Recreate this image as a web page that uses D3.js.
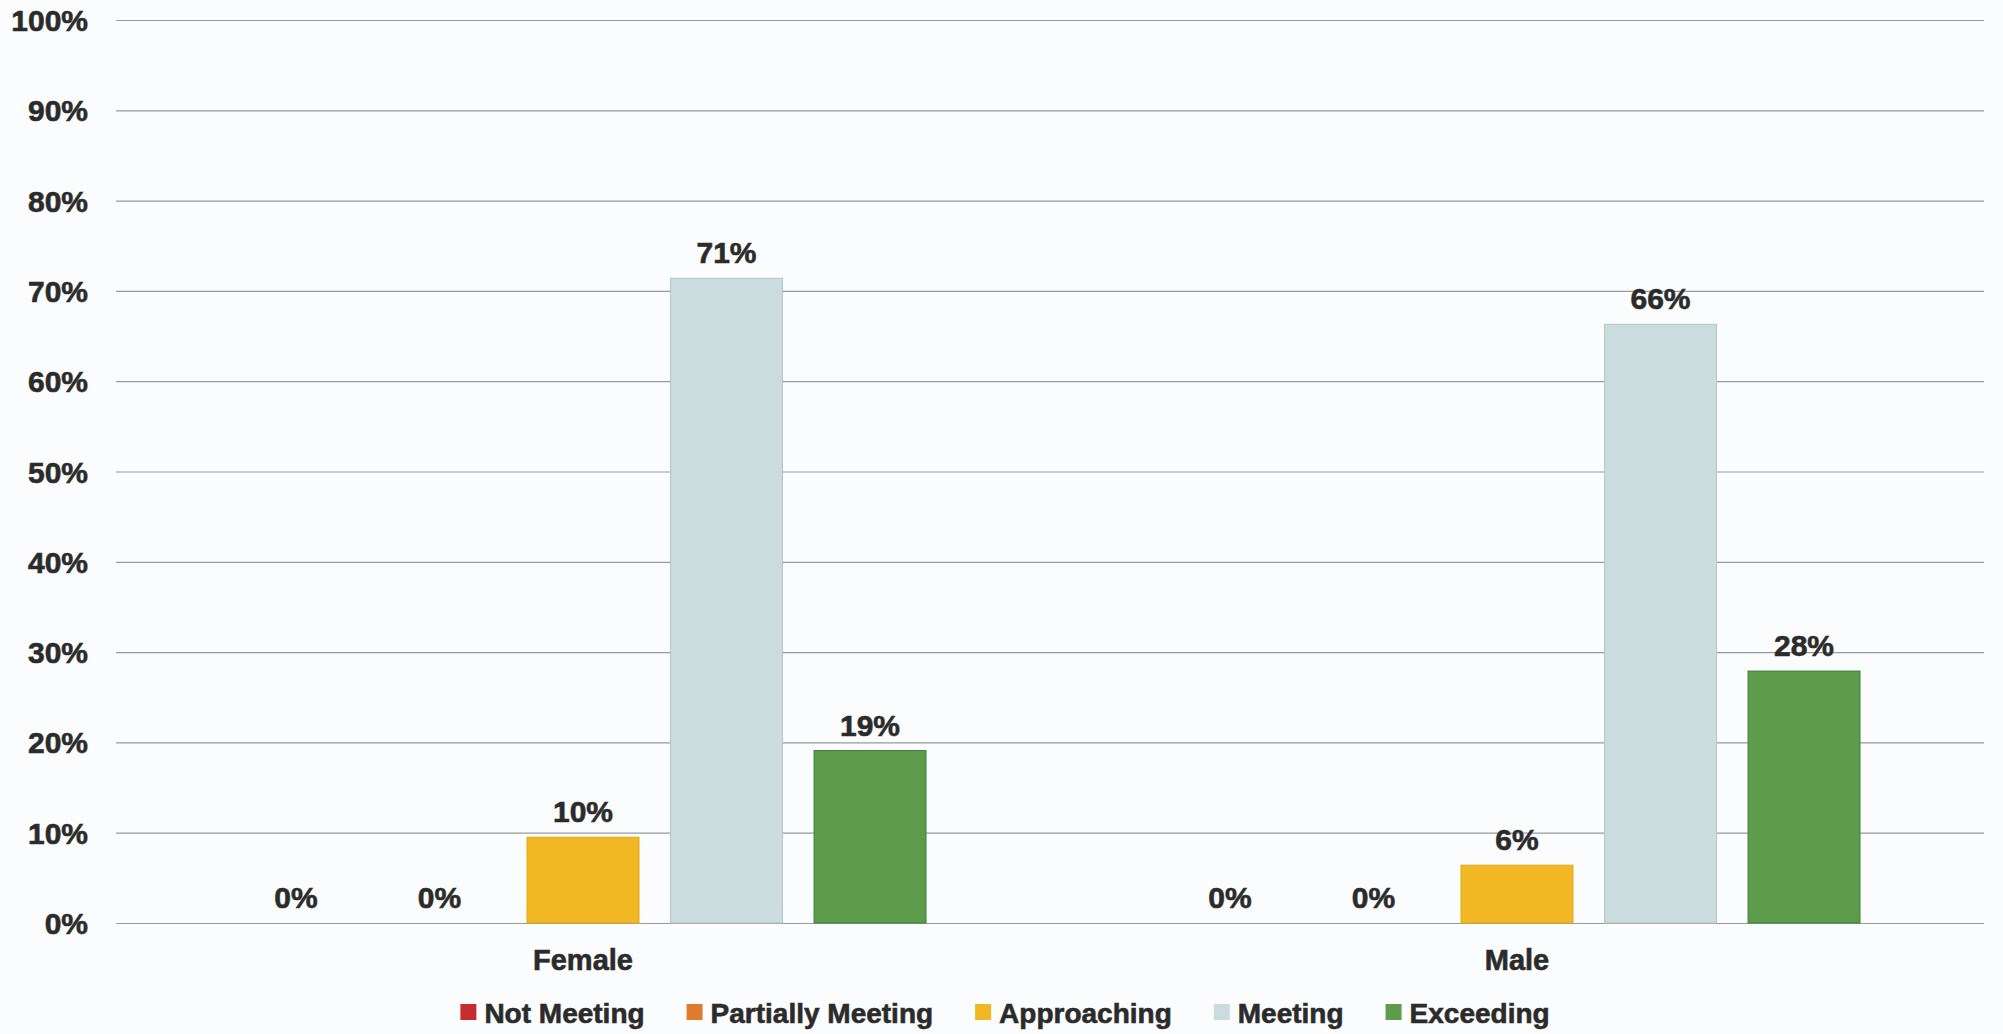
<!DOCTYPE html>
<html>
<head>
<meta charset="utf-8">
<script src="https://cdn.jsdelivr.net/npm/d3@7"></script>
<style>
  html, body { margin: 0; padding: 0; background: #fafcfd; }
  svg { display: block; }
  text { font-family: "Liberation Sans", Arial, sans-serif; font-weight: bold; fill: #2b2b2b; stroke: #2b2b2b; stroke-width: 0.6px; }
</style>
</head>
<body>
<svg id="chart" width="2003" height="1034"></svg>
<script>
const categories = ["Female", "Male"];
const seriesNames = ["Not Meeting", "Partially Meeting", "Approaching", "Meeting", "Exceeding"];
const femaleValues = [0, 0, 9.5, 71.4, 19.1];
const maleValues = [0, 0, 6.4, 66.3, 27.9];
const yTicks = [0, 10, 20, 30, 40, 50, 60, 70, 80, 90, 100];
const seriesColors = ["#c62d2f", "#df7a2e", "#f2b824", "#cadcde", "#5d9c4a"];
const seriesStrokes = ["#a82427", "#c66a25", "#e0a81c", "#b3c5c8", "#3f7f38"];

const valuesByCategory = { "Female": femaleValues, "Male": maleValues };

const svg = d3.select("#chart");
const W = 2003, H = 1034;
svg.append("rect").attr("width", W).attr("height", H).attr("fill", "#fafcfd");

const plot = { left: 116, right: 1984, top: 20, bottom: 923 };

const y = d3.scaleLinear().domain([0, 100]).range([plot.bottom, plot.top]);
const x0 = d3.scaleBand().domain(categories).range([plot.left, plot.right]).padding(0);
const x1 = d3.scaleBand().domain(seriesNames).range([0, x0.bandwidth()])
  .paddingInner(0.22).paddingOuter(0.864);

// gridlines
const yAxis = d3.axisLeft(y).tickValues(yTicks).tickSize(-(plot.right - plot.left)).tickFormat(d => d + "%");
const gy = svg.append("g").attr("transform", `translate(${plot.left},0)`).call(yAxis);
gy.select(".domain").remove();
gy.selectAll(".tick line").attr("stroke", "#9a9a9a").attr("stroke-width", 1.2);
gy.selectAll(".tick text")
  .attr("x", -28)
  .attr("dy", "0.35em")
  .style("font-size", "30px")
  .style("font-family", "'Liberation Sans', Arial, sans-serif")
  .style("font-weight", "bold")
  .attr("fill", "#2b2b2b");

// bars
const groups = svg.append("g").selectAll("g.cat")
  .data(categories).join("g")
  .attr("class", "cat")
  .attr("transform", d => `translate(${x0(d)},0)`);

groups.selectAll("rect")
  .data(c => seriesNames.map((s, i) => ({ s, i, v: valuesByCategory[c][i] })))
  .join("rect")
  .filter(d => d.v > 0)
  .attr("x", d => x1(d.s))
  .attr("y", d => y(d.v))
  .attr("width", x1.bandwidth())
  .attr("height", d => y(0) - y(d.v))
  .attr("fill", d => seriesColors[d.i])
  .attr("stroke", d => seriesStrokes[d.i])
  .attr("stroke-width", 1);

groups.selectAll("text.lbl")
  .data(c => seriesNames.map((s, i) => ({ s, i, v: valuesByCategory[c][i] })))
  .join("text")
  .attr("class", "lbl")
  .attr("x", d => x1(d.s) + x1.bandwidth() / 2)
  .attr("y", d => y(d.v) - 15)
  .attr("text-anchor", "middle")
  .style("font-size", "30px")
  .text(d => Math.round(d.v) + "%");

// x axis labels
svg.append("g").selectAll("text")
  .data(categories).join("text")
  .attr("x", d => x0(d) + x0.bandwidth() / 2)
  .attr("y", 970)
  .attr("text-anchor", "middle")
  .style("font-size", "29px")
  .text(d => d);

// legend
const legend = svg.append("g");
const items = legend.selectAll("g").data(seriesNames).join("g");
items.append("rect")
  .attr("x", 0).attr("y", -19)
  .attr("width", 16).attr("height", 16)
  .attr("fill", (d, i) => seriesColors[i]);
items.append("text")
  .attr("x", 24).attr("y", 0)
  .style("font-size", "28px")
  .text(d => d);
let cx = 0;
const gap = 42;
items.each(function () {
  const g = d3.select(this);
  const w = 24 + g.select("text").node().getComputedTextLength();
  g.attr("transform", `translate(${cx},0)`);
  cx += w + gap;
});
const totalW = cx - gap;
legend.attr("transform", `translate(${1005 - totalW / 2},1023)`);
</script>
</body>
</html>
